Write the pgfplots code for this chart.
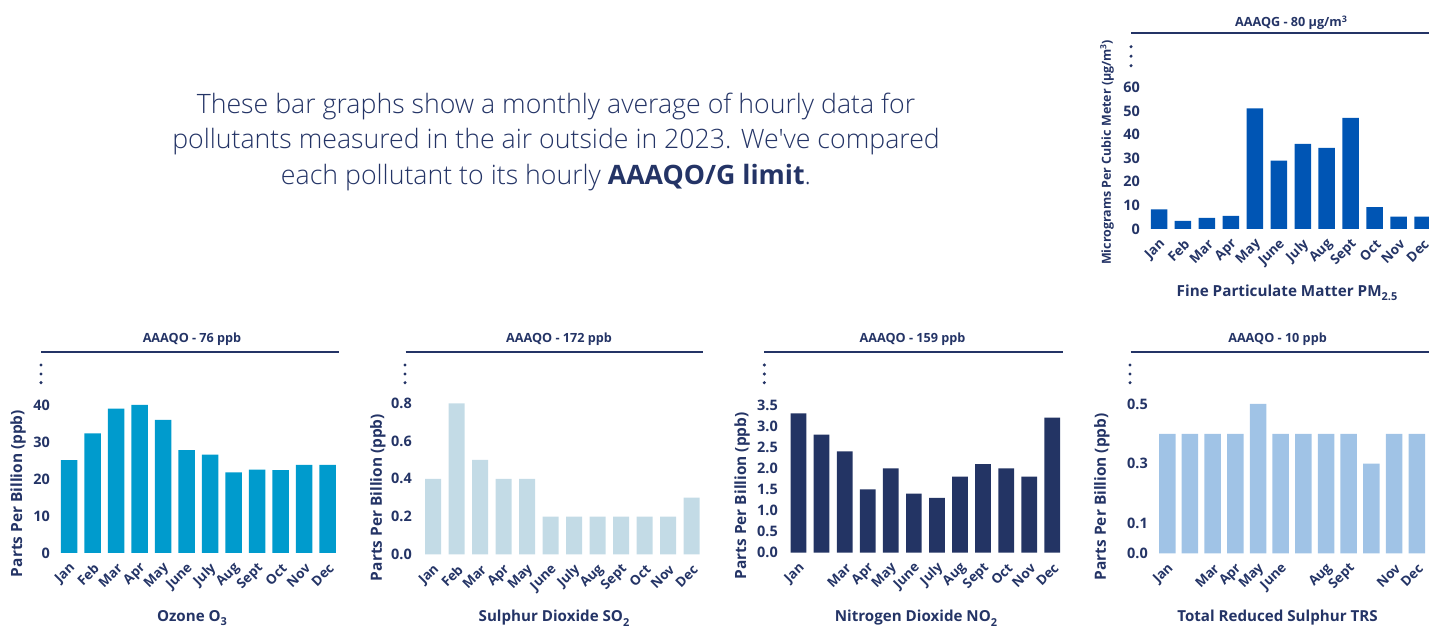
\documentclass[border=0pt]{standalone}
\usepackage{fontspec}
\setmainfont{Open Sans}
\IfFontExistsTF{Open Sans Light}{\newfontfamily\lightfont{Open Sans Light}}{\newfontfamily\lightfont{Open Sans}}
\usepackage{pgfplots}
\pgfplotsset{compat=1.18}
\definecolor{navy}{RGB}{36,52,102}
\definecolor{ozone}{RGB}{0,155,205}
\definecolor{sotwo}{RGB}{195,219,230}
\definecolor{notwo}{RGB}{35,52,100}
\definecolor{trs}{RGB}{160,195,230}
\definecolor{pm}{RGB}{0,85,180}
\newcommand{\fs}[1]{\fontsize{#1}{#1}\selectfont}
\pgfplotsset{
  mybar/.style={
    scale only axis, anchor=south west, ybar,
    axis line style={draw=none}, major tick length=0pt, tick style={draw=none},
    ymin=0, enlargelimits=false,
    xtick={0,...,11},
    xticklabels={Jan,Feb,Mar,Apr,May,June,July,Aug,Sept,Oct,Nov,Dec},
    xticklabel style={font=\bfseries\fs{13.5}, text=navy, inner sep=0pt, xshift=4bp, yshift=-13bp, rotate=45, anchor=east},
    yticklabel style={font=\bfseries\fs{14.5}, text=navy, inner sep=0pt, xshift=-5bp, anchor=east},
    ylabel style={font=\bfseries\fs{15.5}, text=navy, anchor=center, inner sep=0pt},
  }
}
\begin{document}
\begin{tikzpicture}[x=1bp,y=1bp]
\coordinate (pmpos) at (1145,401);
\coordinate (ozpos) at (55,77);
\coordinate (sopos) at (417,75.7);
\coordinate (nopos) at (783,77.3);
\coordinate (trpos) at (1153,76.7);
% paragraph
\node[align=center, text=navy, font={\lightfont\fontsize{26.8}{36}\selectfont}, inner sep=0pt] at (556,488) {%
These bar graphs show a monthly average of hourly data for\\
pollutants measured in the air outside in 2023. We've compared\\
each pollutant to its hourly {\fontspec{Open Sans}\bfseries AAAQO/G limit}.\hspace*{20bp}};

% ---- PM2.5
\begin{axis}[mybar, at={(pmpos)}, width=284bp, height=141.7bp,
  xmin=-0.585, xmax=11.27, ymax=60, ytick={0,10,20,30,40,50,60},
  yticklabels={0,10,20,30,40,50,60},
  ylabel={Micrograms Per Cubic Meter (µg/m\raisebox{4.5bp}{\fs{8.5}3})},
  ylabel style={font=\bfseries\fs{12.5}, at={(axis description cs:-0.134,0.54)}}]
\addplot[fill=pm, draw=none, bar width=16.5bp] coordinates {
(0,8.3) (1,3.4) (2,4.7) (3,5.6) (4,51.1) (5,28.9) (6,36.0) (7,34.4) (8,47.0) (9,9.3) (10,5.2) (11,5.2)};
\end{axis}
\node[font=\bfseries\fs{12.7}, text=navy] at (1291,607) {AAAQG - 80 µg/m\raisebox{4.5bp}{\fs{9}3}};
\draw[navy, line width=1.7bp] (1131,596.7) -- (1429,596.7);
\fill[navy] (1131,583.3) circle (1.7) (1131,573.8) circle (1.7) (1131,564.3) circle (1.7);
\node[font=\bfseries\fs{15.3}, text=navy] at (1287,337) {Fine Particulate Matter PM\raisebox{-4.5bp}{\fs{11}2.5}};

% ---- Ozone
\begin{axis}[mybar, at={(ozpos)}, width=286bp, height=148bp,
  xmin=-0.596, xmax=11.574, ymax=40, ytick={0,10,20,30,40},
  yticklabels={0,10,20,30,40},
  ylabel={Parts Per Billion (ppb)},
  ylabel style={at={(axis description cs:-0.129,0.402)}}]
\addplot[fill=ozone, draw=none, bar width=16.5bp] coordinates {
(0,25.1) (1,32.3) (2,39.0) (3,40.0) (4,36.0) (5,27.8) (6,26.6) (7,21.8) (8,22.5) (9,22.4) (10,23.8) (11,23.8)};
\end{axis}
\node[font=\bfseries\fs{12.7}, text=navy] at (192,291) {AAAQO - 76 ppb};
\draw[navy, line width=1.7bp] (41,278.3) -- (339,278.3);
\fill[navy] (41,265) circle (1.7) (41,256) circle (1.7) (41,247.3) circle (1.7);
\node[font=\bfseries\fs{15.2}, text=navy] at (192,12) {Ozone O\raisebox{-4.5bp}{\fs{11}3}};

% ---- SO2
\begin{axis}[mybar, at={(sopos)}, width=287bp, height=151bp,
  xmin=-0.681, xmax=11.53, ymax=0.8, ytick={0,0.2,0.4,0.6,0.8},
  yticklabels={0.0,0.2,0.4,0.6,0.8},
  ylabel={Parts Per Billion (ppb)},
  ylabel style={at={(axis description cs:-0.136,0.376)}}]
\addplot[fill=sotwo, draw=none, bar width=16bp] coordinates {
(0,0.4) (1,0.8) (2,0.5) (3,0.4) (4,0.4) (5,0.2) (6,0.2) (7,0.2) (8,0.2) (9,0.2) (10,0.2) (11,0.3)};
\end{axis}
\node[font=\bfseries\fs{12.7}, text=navy] at (559,291) {AAAQO - 172 ppb};
\draw[navy, line width=1.7bp] (405.7,278) -- (702.7,278);
\fill[navy] (405,265) circle (1.7) (405,256) circle (1.7) (405,247.3) circle (1.7);
\node[font=\bfseries\fs{15.2}, text=navy] at (554,12) {Sulphur Dioxide SO\raisebox{-4.5bp}{\fs{11}2}};

% ---- NO2
\begin{axis}[mybar, at={(nopos)}, width=280bp, height=147.7bp,
  xmin=-0.672, xmax=11.465, ymax=3.5, ytick={0,0.5,1,1.5,2,2.5,3,3.5},
  yticklabels={0.0,0.5,1.0,1.5,2.0,2.5,3.0,3.5},
  xticklabels={Jan,,Mar,Apr,May,June,July,Aug,Sept,Oct,Nov,Dec},
  ylabel={Parts Per Billion (ppb)},
  ylabel style={at={(axis description cs:-0.146,0.385)}}]
\addplot[fill=notwo, draw=none, bar width=15.7bp] coordinates {
(0,3.3) (1,2.8) (2,2.4) (3,1.5) (4,2.0) (5,1.4) (6,1.3) (7,1.8) (8,2.1) (9,2.0) (10,1.8) (11,3.2)};
\end{axis}
\node[font=\bfseries\fs{12.7}, text=navy] at (912.5,291) {AAAQO - 159 ppb};
\draw[navy, line width=1.7bp] (764.3,278) -- (1063,278);
\fill[navy] (764.3,265) circle (1.7) (764.3,256) circle (1.7) (764.3,247.3) circle (1.7);
\node[font=\bfseries\fs{15.2}, text=navy] at (916,12) {Nitrogen Dioxide NO\raisebox{-4.5bp}{\fs{11}2}};

% ---- TRS
\begin{axis}[mybar, at={(trpos)}, width=276bp, height=149.3bp,
  xmin=-0.63, xmax=11.54, ymax=0.5, ytick={0,0.1,0.3,0.5},
  yticklabels={0.0,0.1,0.3,0.5},
  xticklabels={Jan,,Mar,Apr,May,June,,Aug,Sept,,Nov,Dec},
  ylabel={Parts Per Billion (ppb)},
  ylabel style={at={(axis description cs:-0.185,0.379)}}]
\addplot[fill=trs, draw=none, bar width=16.5bp] coordinates {
(0,0.4) (1,0.4) (2,0.4) (3,0.4) (4,0.5) (5,0.4) (6,0.4) (7,0.4) (8,0.4) (9,0.3) (10,0.4) (11,0.4)};
\end{axis}
\node[font=\bfseries\fs{12.7}, text=navy] at (1277.5,291) {AAAQO - 10 ppb};
\draw[navy, line width=1.7bp] (1130.7,278) -- (1429,278);
\fill[navy] (1130,265) circle (1.7) (1130,256) circle (1.7) (1130,247.3) circle (1.7);
\node[font=\bfseries\fs{15.2}, text=navy] at (1277.5,12) {Total Reduced Sulphur TRS};

\pgfresetboundingbox
\path[use as bounding box] (0,0) rectangle (1429,630);
\end{tikzpicture}
\end{document}
